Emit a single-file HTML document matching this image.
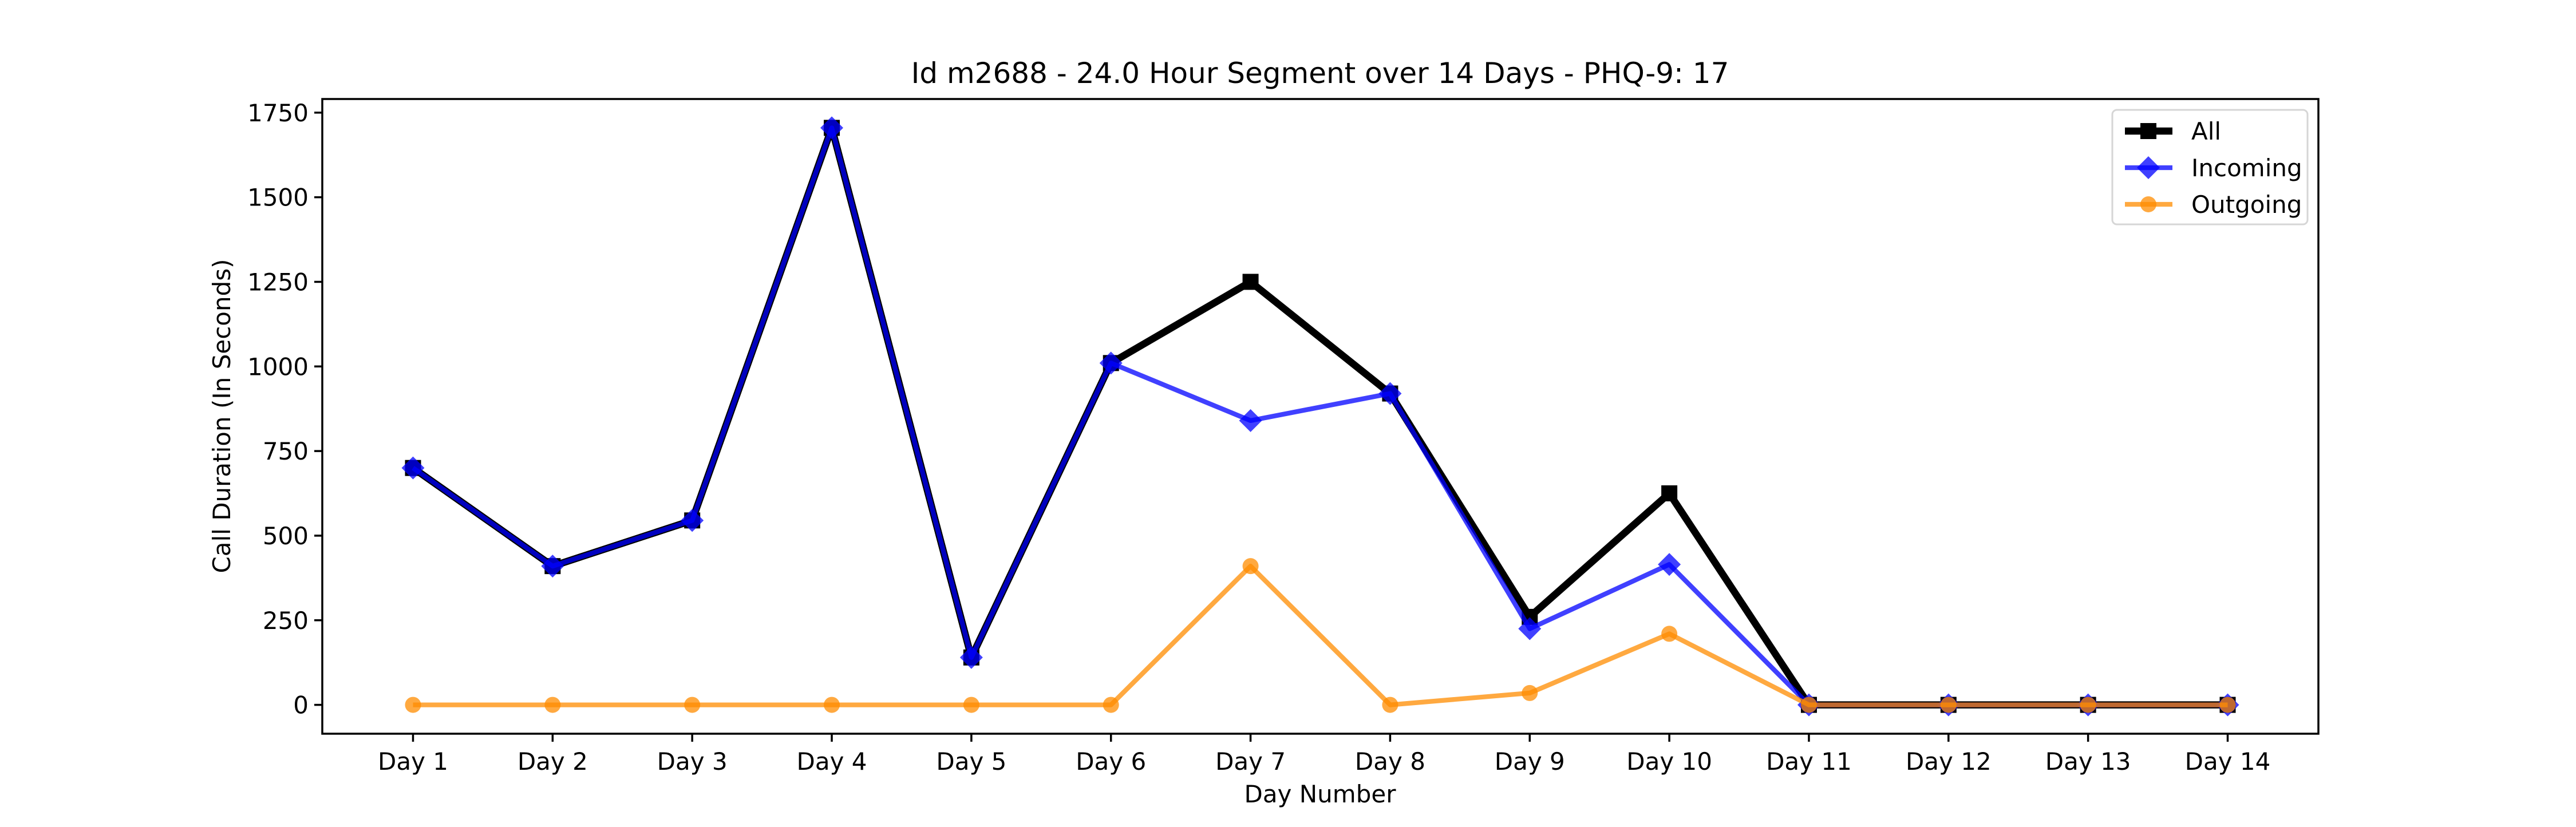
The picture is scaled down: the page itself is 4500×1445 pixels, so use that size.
<!DOCTYPE html>
<html><head><meta charset="utf-8"><style>
html,body{margin:0;padding:0;background:#fff;}
svg text{font-family:"DejaVu Sans","Liberation Sans",sans-serif;fill:#000;}
</style></head><body>
<svg id="chart" width="4500" height="1440" viewBox="0 0 4500 1440" xmlns="http://www.w3.org/2000/svg">
<rect width="4500" height="1440" fill="#fff"/>
<text x="2306" y="145" font-size="50" text-anchor="middle">Id m2688 - 24.0 Hour Segment over 14 Days - PHQ-9: 17</text>
<g id="xticks"></g><g id="yticks"></g>
<g id="series"></g>
<rect x="563" y="173" width="3487" height="1109" fill="none" stroke="#000" stroke-width="3.5"/>
<text x="2306" y="1402" font-size="42" text-anchor="middle">Day Number</text>
<text transform="translate(402,727) rotate(-90)" font-size="42" text-anchor="middle">Call Duration (In Seconds)</text>
<g>
<rect x="3690" y="192" width="341" height="200" rx="8" fill="#fff" fill-opacity="0.8" stroke="#d6d6d6" stroke-width="3"/>
<g id="legend-items"></g>
</g>
</svg>
<script>
const categories=["Day 1","Day 2","Day 3","Day 4","Day 5","Day 6","Day 7","Day 8","Day 9","Day 10","Day 11","Day 12","Day 13","Day 14"];
const allValues=[700,410,545,1705,140,1010,1250,920,260,625,0,0,0,0];
const incomingValues=[700,410,545,1705,140,1010,840,920,225,415,0,0,0,0];
const outgoingValues=[0,0,0,0,0,0,410,0,35,210,0,0,0,0];
const yTickValues=[0,250,500,750,1000,1250,1500,1750];

const NS="http://www.w3.org/2000/svg";
const L=563,R=4050,T=173,B=1282;
const dmax=Math.max(...allValues,...incomingValues,...outgoingValues);
const dmin=Math.min(0,...outgoingValues);
const pad=(dmax-dmin)*0.05;
const y0=dmin-pad,y1=dmax+pad;
const n=categories.length;
const xpad=(n-1)*0.05;
function xs(i){return L+(i+xpad)/((n-1)+2*xpad)*(R-L);}
function ys(v){return B-(v-y0)/(y1-y0)*(B-T);}
function mk(tag,attrs,parent){const e=document.createElementNS(NS,tag);for(const k in attrs)e.setAttribute(k,attrs[k]);parent.appendChild(e);return e;}

const xg=document.getElementById('xticks');
categories.forEach((c,i)=>{
  const t=mk('line',{x1:xs(i),x2:xs(i),y1:B,y2:B+14,stroke:'#000','stroke-width':3.5},xg);
  
  
  const tx=mk('text',{x:xs(i),y:B+63,'font-size':42,'text-anchor':'middle'},xg);
  tx.textContent=c;
  
  
});
const yg=document.getElementById('yticks');
yTickValues.forEach(v=>{
  const t=mk('line',{x1:L-14,x2:L,y1:ys(v),y2:ys(v),stroke:'#000','stroke-width':3.5},yg);
  
  
  const tx=mk('text',{x:L-24,y:ys(v)+15,'font-size':42,'text-anchor':'end'},yg);
  tx.textContent=String(v);
  
  
});

const sg=document.getElementById('series');
function marker(type,cx,cy,color,op,parent){
  let e;
  if(type==='square'){e=mk('rect',{x:cx-14,y:cy-14,width:28,height:28,fill:color,'fill-opacity':op},parent);}
  else if(type==='diamond'){e=mk('polygon',{points:`${cx},${cy-20} ${cx+20},${cy} ${cx},${cy+20} ${cx-20},${cy}`,fill:color,'fill-opacity':op},parent);}
  else{e=mk('circle',{cx:cx,cy:cy,r:14,fill:color,'fill-opacity':op},parent);}
  return e;
}
function drawSeries(vals,color,op,w,type,name){
  const g=mk('g',{},sg);
  
  
  const pts=vals.map((v,i)=>xs(i)+','+ys(v)).join(' ');
  const pl=mk('polyline',{points:pts,fill:'none',stroke:color,'stroke-opacity':op,'stroke-width':w,'stroke-linejoin':'round'},g);
  
  
  vals.forEach((v,i)=>{
    const m=marker(type,xs(i),ys(v),color,op,g);
    
    
  });
}
drawSeries(allValues,'#000',1,12.5,'square','all');
drawSeries(incomingValues,'#0000ff',0.75,8.3,'diamond','incoming');
drawSeries(outgoingValues,'#ff8c00',0.75,8.3,'circle','outgoing');

const lg=document.getElementById('legend-items');
const leg=[["All",'#000',1,12.5,'square'],["Incoming",'#0000ff',0.75,8.3,'diamond'],["Outgoing",'#ff8c00',0.75,8.3,'circle']];
leg.forEach((d,k)=>{
  const y=229+k*64;
  const g=mk('g',{},lg);
  
  
  mk('line',{x1:3712,x2:3795,y1:y,y2:y,stroke:d[1],'stroke-opacity':d[2],'stroke-width':d[3]},g);
  marker(d[4],3753,y,d[1],d[2],g);
  const t=mk('text',{x:3828,y:y+15,'font-size':42},g);
  t.textContent=d[0];
});
</script>
</body></html>
